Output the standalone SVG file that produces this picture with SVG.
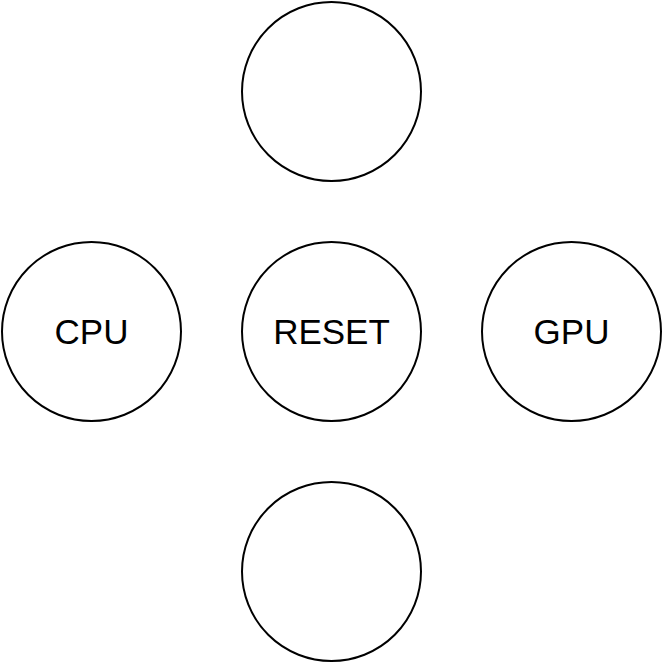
<svg xmlns="http://www.w3.org/2000/svg" width="663" height="663" viewBox="0 0 663 663">
<style>
.n{fill:#fff;stroke:#000;stroke-width:2}
.t{font-family:"Liberation Sans",Arial,sans-serif;font-size:35px;text-anchor:middle;fill:#000}
</style>
<rect width="663" height="663" fill="#fff"/>
<g id="connectors"></g>
<g id="top"><circle class="n" cx="331.5" cy="91.5" r="89.5"/></g>
<g id="cpu"><circle class="n" cx="91.5" cy="331.5" r="89.5"/><text class="t" x="91.5" y="344">CPU</text></g>
<g id="reset"><circle class="n" cx="331.5" cy="331.5" r="89.5"/><text class="t" x="331.5" y="344">RESET</text></g>
<g id="gpu"><circle class="n" cx="571.5" cy="331.5" r="89.5"/><text class="t" x="571.5" y="344">GPU</text></g>
<g id="bottom"><circle class="n" cx="331.5" cy="571.5" r="89.5"/></g>
</svg>
